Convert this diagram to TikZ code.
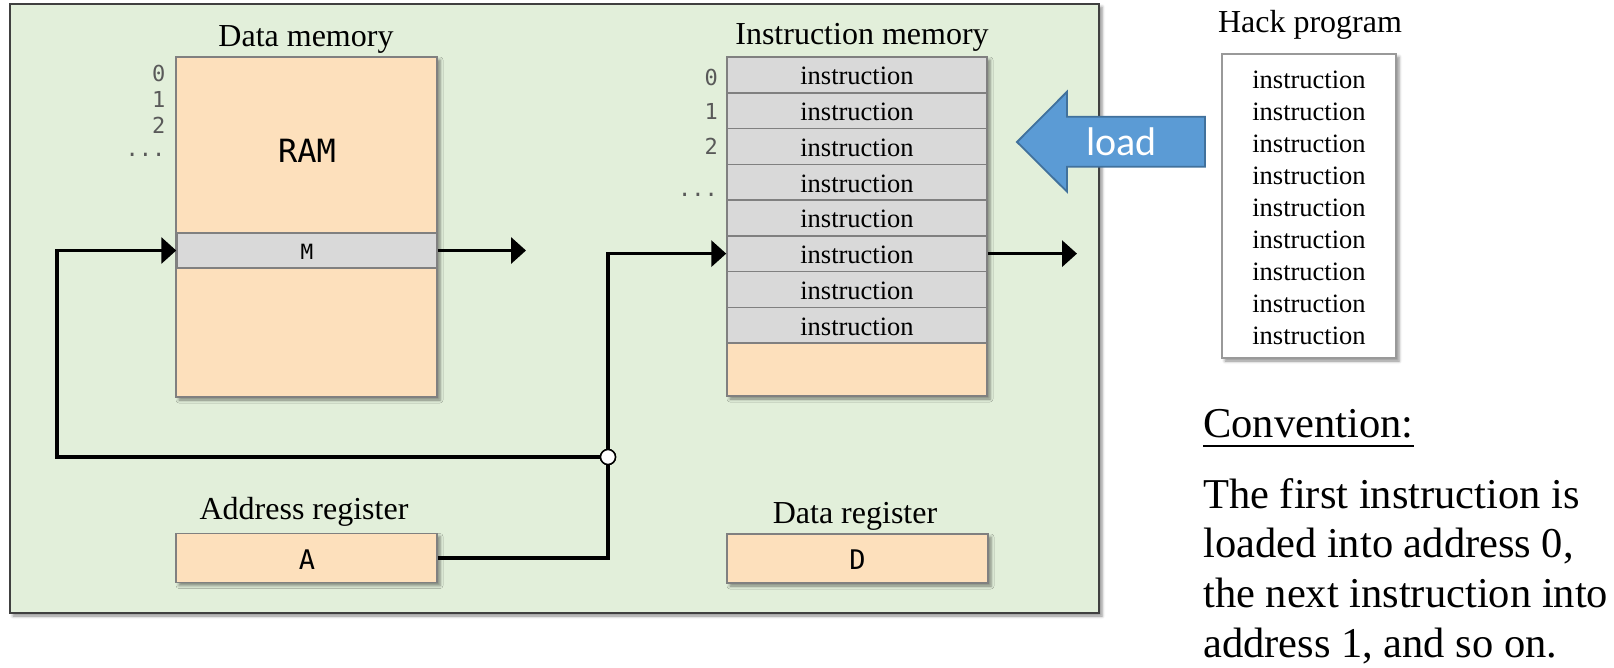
\documentclass[tikz,border=0pt]{standalone}
\usepackage{fontspec}
\setmainfont{Liberation Serif}
\setmonofont{DejaVu Sans Mono}
\newfontfamily\loadfont{Carlito}
\usetikzlibrary{arrows.meta,shadows.blur,calc}
\definecolor{panelgreen}{RGB}{226,239,218}
\definecolor{peach}{RGB}{253,224,188}
\definecolor{rowgray}{RGB}{217,217,217}
\definecolor{edgegray}{RGB}{128,128,128}
\definecolor{loadblue}{RGB}{91,155,213}
\definecolor{loadedge}{RGB}{65,113,156}
\definecolor{numgray}{RGB}{89,89,89}
\definecolor{paneledge}{RGB}{64,64,64}
\begin{document}
\begin{tikzpicture}[x=1pt,y=-1pt,
  softshadow/.style={blur shadow={shadow xshift=3pt,shadow yshift=-3pt,shadow blur radius=3pt,shadow opacity=45}},
  panelbox/.style={draw=paneledge,line width=1.8pt,fill=panelgreen,softshadow,inner sep=0pt},
  membox/.style={draw=edgegray,line width=1.5pt,fill=peach,softshadow,inner sep=0pt},
  rowbox/.style={draw=edgegray,line width=1.5pt,fill=rowgray,inner sep=0pt},
  progbox/.style={draw=edgegray!80,line width=1.3pt,fill=white,softshadow,inner sep=0pt},
  label/.style={inner sep=0pt,anchor=base,font=\fontsize{32}{38}\selectfont},
  itext/.style={inner sep=0pt,anchor=base,font=\fontsize{26.5}{32}\selectfont},
  num/.style={inner sep=0pt,anchor=base east,text=numgray,font=\ttfamily\fontsize{22}{26}\selectfont},
  conv/.style={inner sep=0pt,anchor=base west,font=\fontsize{42.5}{50}\selectfont},
  wire/.style={line width=3.5pt},
  tip/.style={-{Triangle[length=15pt,width=26pt]}},
  junction/.style={circle,draw=black,fill=white,line width=1.5pt,minimum size=15pt,inner sep=0pt}
]
\useasboundingbox (0,0) rectangle (1614,667);

% panel
\node[panelbox,minimum width=1089pt,minimum height=609pt] (panel) at (554.5,308.5) {};

% data memory
\node[label] (dmlabel) at (306,46) {Data memory};
\node[membox,minimum width=261pt,minimum height=340pt] (ram) at (306.5,227) {};
\node[inner sep=0pt,anchor=base,font=\ttfamily\fontsize{32}{36}\selectfont] (ramtext) at (307,162) {RAM};
\node[rowbox,minimum width=260pt,minimum height=35pt] (M) at (307,250.5) {};
\node[inner sep=0pt,anchor=base,font=\ttfamily\fontsize{21}{26}\selectfont] (Mtext) at (307,259) {M};
\node[num] (d0) at (165.5,81) {0};
\node[num] (d1) at (165.5,107) {1};
\node[num] (d2) at (165.5,133) {2};
\node[num] (d3) at (165.5,156) {...};

% instruction memory
\node[label] (imlabel) at (862,44) {Instruction memory};
\node[membox,minimum width=260pt,minimum height=339pt] (imem) at (857,226.5) {};
\foreach \i in {0,...,7} {
  \node[rowbox,minimum width=260pt,minimum height=35.75pt] (im\i) at (857,{57+35.75*(\i+0.5)}) {};
  \node[itext] (imt\i) at (857,{57+35.75*(\i+0.5)+10}) {instruction};
}
\node[num] (n0) at (718,85) {0};
\node[num] (n1) at (718,119) {1};
\node[num] (n2) at (718,154) {2};
\node[num] (n3) at (718,196) {...};

% registers
\node[label] (alabel) at (304,519) {Address register};
\node[membox,minimum width=261pt,minimum height=49pt] (A) at (306.5,558) {};
\node[inner sep=0pt,anchor=base,font=\ttfamily\fontsize{27}{30}\selectfont] (Atext) at (307,569) {A};
\node[label] (dlabel) at (855,523) {Data register};
\node[membox,minimum width=261pt,minimum height=49pt] (D) at (857.5,558.5) {};
\node[inner sep=0pt,anchor=base,font=\ttfamily\fontsize{27}{30}\selectfont] (Dtext) at (857.5,569) {D};

% wires
\coordinate (lx) at (57,0);
\coordinate (ramout) at (526,0);
\coordinate (imout) at (1077,0);
\node[junction] (jn) at (608,457) {};
\draw[wire] (A.east) -| (jn.south);
\draw[wire,tip] (jn.north) |- (im5.west);
\draw[wire,tip] (jn.west) -- (lx |- jn.west) |- (M.west);
\draw[wire,tip] (M.east) -- (M.east -| ramout);
\draw[wire,tip] (im5.east) -- (im5.east -| imout);
\node[junction] at (jn) {};

% load arrow
\draw[fill=loadblue,draw=loadedge,line width=1.8pt,line join=miter]
  (1017,142) -- (1067,91.7) -- (1067,116.7) -- (1205,116.7) -- (1205,166.7)
  -- (1067,166.7) -- (1067,191.7) -- cycle;
\node[inner sep=0pt,anchor=base,text=white,font=\loadfont\fontsize{40}{46}\selectfont] (loadtext) at (1121.5,155) {load};

% hack program
\node[label] (hplabel) at (1310,32) {Hack program};
\node[progbox,minimum width=174pt,minimum height=304pt] (hack) at (1309,206) {};
\foreach \i in {0,...,8} {
  \node[itext] (hp\i) at (1309,{88+32*\i}) {instruction};
}

% convention
\node[conv] (convtitle) at (1203,437) {Convention:};
\draw[line width=2.2pt] ($(convtitle.base west)+(0,9)$) -- ($(convtitle.base east)+(0,9)$);
\node[conv] (c1) at (1203,508) {The first instruction is};
\node[conv] (c2) at (1203,557) {loaded into address 0,};
\node[conv] (c3) at (1203,607) {the next instruction into};
\node[conv] (c4) at (1203,657) {address 1, and so on.};
\end{tikzpicture}
\end{document}
